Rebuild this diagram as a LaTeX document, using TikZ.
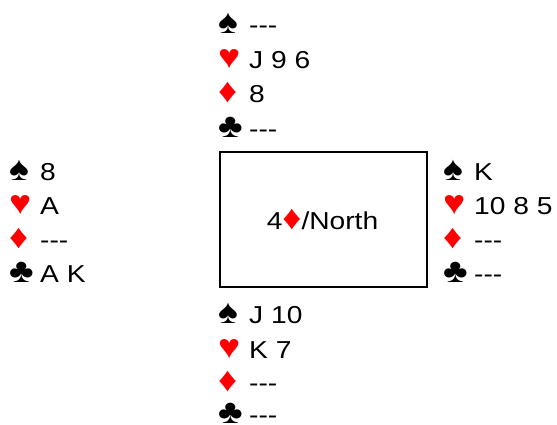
\documentclass[tikz,border=0pt]{standalone}
\usepackage{fontspec}
\setmainfont[FakeStretch=1.15]{Liberation Sans}
\newfontfamily\suitfont[FakeStretch=1.1]{Liberation Sans}
\definecolor{suitred}{RGB}{255,0,0}
\newcommand\suitglyph{\suitfont\fontsize{34}{34}\selectfont}
\newcommand\suitS{\makebox[31pt][l]{\smash{\suitglyph ♠}}}
\newcommand\suitH{\makebox[31pt][l]{\smash{\suitglyph\color{suitred}♥}}}
\newcommand\suitD{\makebox[31pt][l]{\smash{\suitglyph\color{suitred}♦}}}
\newcommand\suitC{\makebox[31pt][l]{\smash{\suitglyph ♣}}}
\newcommand\inlineD{\smash{\suitglyph\color{suitred}♦}}
\newcommand\none{{-}{-}{-}}
\begin{document}
\begin{tikzpicture}[x=1pt,y=-1pt,
  hand/.style={anchor=base west, inner sep=0pt, font=\fontsize{24.5}{28}\selectfont},
  table/.style={draw, line width=1.5pt, minimum width=207pt, minimum height=135pt, inner sep=0pt}]
\useasboundingbox (0,0) rectangle (557,424);
% North
\node[hand] (n1) at (218,33) {\suitS \none};
\node[hand] (n2) at (218,68) {\suitH J 9 6};
\node[hand] (n3) at (218,102.5) {\suitD 8};
\node[hand] (n4) at (218,137) {\suitC \none};
% West
\node[hand] (w1) at (9,180) {\suitS 8};
\node[hand] (w2) at (9,214) {\suitH A};
\node[hand] (w3) at (9,248) {\suitD \none};
\node[hand] (w4) at (9,282) {\suitC A K};
% East
\node[hand] (e1) at (443,180) {\suitS K};
\node[hand] (e2) at (443,214) {\suitH 10 8 5};
\node[hand] (e3) at (443,248) {\suitD \none};
\node[hand] (e4) at (443,282) {\suitC \none};
% South
\node[hand] (s1) at (218,323) {\suitS J 10};
\node[hand] (s2) at (218,358) {\suitH K 7};
\node[hand] (s3) at (218,391) {\suitD \none};
\node[hand] (s4) at (218,423) {\suitC \none};
% table
\node[table] (box) at (323.5,219.5) {};
\node[anchor=base, inner sep=0pt, font=\fontsize{24.5}{28}\selectfont] (contract) at (322.5,229) {4\inlineD/North};
\end{tikzpicture}
\end{document}
